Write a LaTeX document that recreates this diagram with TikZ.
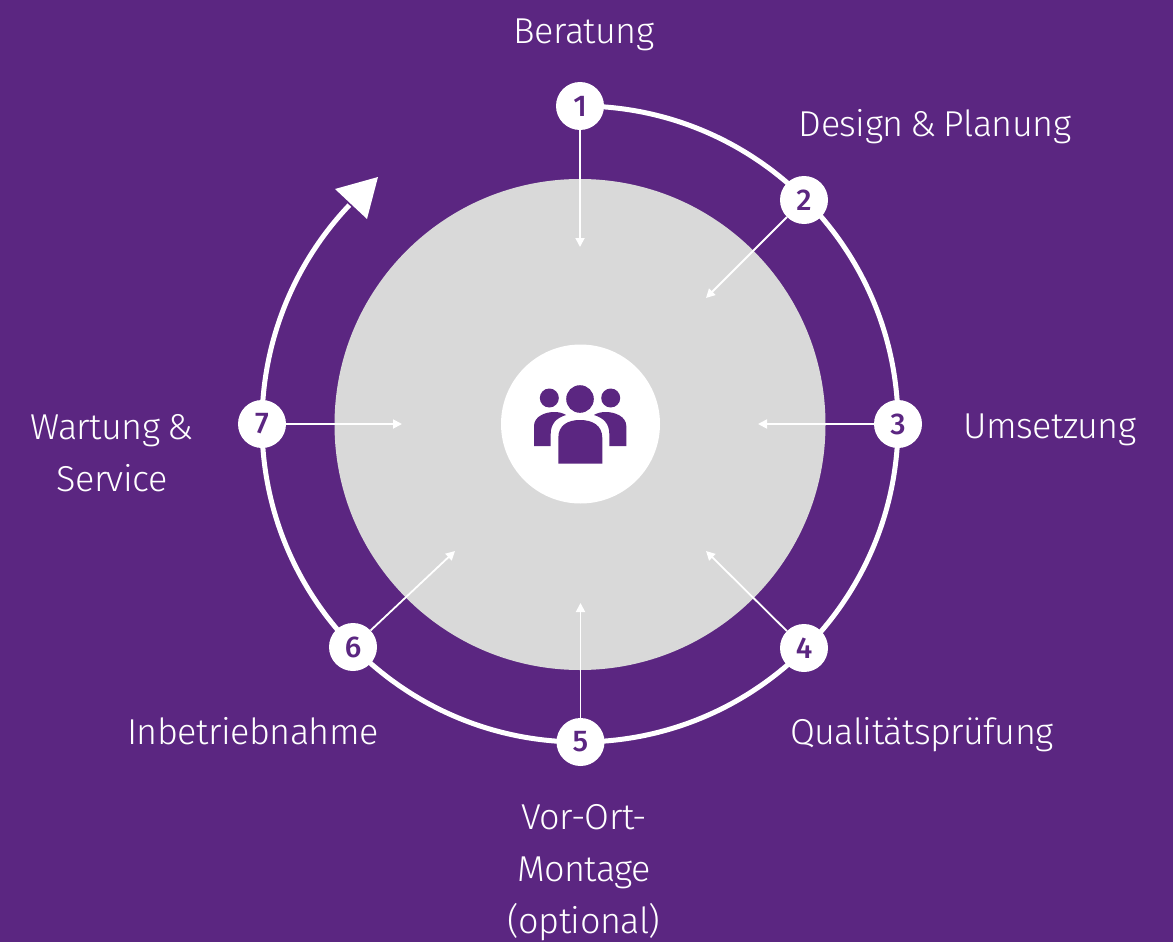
\documentclass[tikz,border=0pt]{standalone}
\usepackage{fontspec}
\usetikzlibrary{arrows.meta}
\setmainfont{Fira Sans Light}[LetterSpace=-1.5,WordSpace=0.75]
\newfontfamily\numfont{Fira Sans Medium}
\definecolor{bgpurple}{HTML}{5B2681}
\definecolor{discgray}{HTML}{D9D9D9}
\tikzset{
  x=1pt,y=-1pt,
  stepdot/.style={circle,fill=white,minimum size=48pt,inner sep=0pt,text=bgpurple,font=\numfont\fontsize{30}{30}\selectfont},
  lbl/.style={text=white,font=\fontsize{36}{52}\selectfont,align=center,inner sep=0pt},
  thinarrow/.style={draw=white,line width=1.8pt,-{Triangle[width=9pt,length=9pt]}},
  ring/.style={draw=white,line width=5pt},
}
\begin{document}
\begin{tikzpicture}
\useasboundingbox (0,0) rectangle (1173,942);
\fill[bgpurple] (0,0) rectangle (1173,942);
\node[circle,fill=discgray,minimum size=491pt,inner sep=0pt] (disc) at (580,424.5) {};
\node[circle,fill=white,minimum size=159pt,inner sep=0pt] (hub) at (580.5,424) {};
% ring and its arrowhead
\draw[ring] (580,106) arc[start angle=-90,end angle=223.5,radius=318];
\fill[white] (378,177) -- (335,189) -- (367,219) -- cycle;
% people icon
\fill[bgpurple] (580,399) circle[radius=13.8];
\fill[bgpurple] (549.3,398) circle[radius=9.5];
\fill[bgpurple] (610.7,398) circle[radius=9.5];
\fill[bgpurple] (558.3,463.7) -- (558.3,438) .. controls (558.3,425) and (568,420) .. (580,420) .. controls (592,420) and (602.3,425) .. (602.3,438) -- (602.3,463.7) -- cycle;
\fill[bgpurple] (534,446) -- (534,426) .. controls (534,416) and (546,412) .. (554,412) .. controls (559,412) and (563,413) .. (566,415) .. controls (556,418) and (550.7,424) .. (550.7,434) -- (550.7,446) -- cycle;
\fill[bgpurple] (626.3,446) -- (626.3,426) .. controls (626.3,416) and (614,412) .. (606,412) .. controls (601,412) and (597,413) .. (594,415) .. controls (604,418) and (609.3,424) .. (609.3,434) -- (609.3,446) -- cycle;
% step dots
\node[stepdot] (s1) at (580,106) {1};
\node[stepdot] (s2) at (804,200) {2};
\node[stepdot] (s3) at (898,424) {3};
\node[stepdot] (s4) at (804,648) {4};
\node[stepdot] (s5) at (580.5,742) {5};
\node[stepdot] (s6) at (353,647) {6};
\node[stepdot] (s7) at (262,424) {7};
% arrow targets
\coordinate (t1) at (580,247);
\coordinate (t2) at (706,298);
\coordinate (t3) at (758,424);
\coordinate (t4) at (706,551);
\coordinate (t5) at (580.5,603);
\coordinate (t6) at (455,551);
\coordinate (t7) at (402,424);
\foreach \i in {1,...,7} \draw[thinarrow] (s\i) -- (t\i);
% labels
\node[lbl] (l1) at (584,35) {Beratung};
\node[lbl] (l2) at (935,127) {Design \& Planung};
\node[lbl] (l3) at (1050,430) {Umsetzung};
\node[lbl] (l4) at (922,735) {Qualitätsprüfung};
\node[lbl,anchor=north] (l5) at (584,804) {Vor-Ort-\\Montage\\(optional)};
\node[lbl] (l6) at (253,731) {Inbetriebnahme};
\node[lbl] (l7) at (112,453) {Wartung \&\\Service};
\end{tikzpicture}
\end{document}
